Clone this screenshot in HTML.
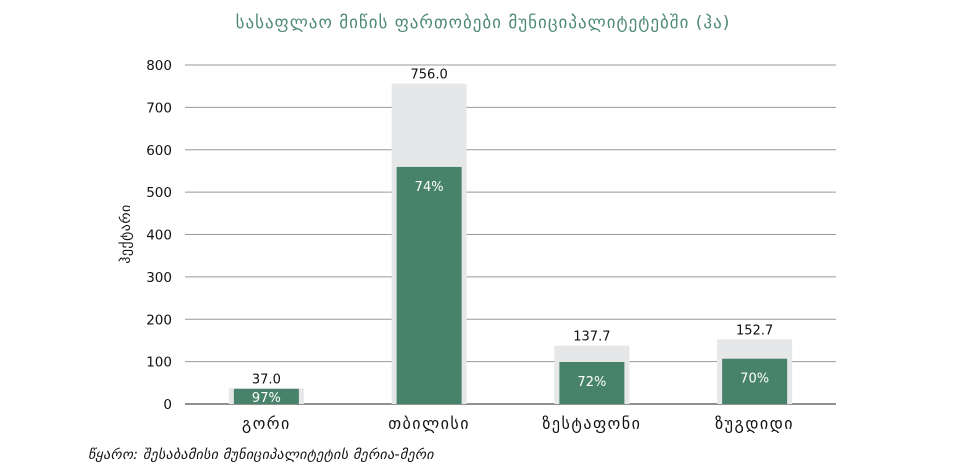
<!DOCTYPE html>
<html><head><meta charset="utf-8"><style>
body{margin:0;background:#fff;}
svg text{font-family:"DejaVu Sans","Liberation Sans",sans-serif;}
</style></head><body>
<svg id="c" width="962" height="471" viewBox="0 0 962 471" xmlns="http://www.w3.org/2000/svg">
<text x="483" y="28" text-anchor="middle" font-size="17" letter-spacing="1" fill="#4e8a72">სასაფლაო მიწის ფართობები მუნიციპალიტეტებში (ჰა)</text>
<text transform="translate(130,234) rotate(-90)" text-anchor="middle" font-size="14" letter-spacing="0.5" fill="#111">ჰექტარი</text>
<text x="88" y="459" font-size="14" font-style="italic" letter-spacing="0.3" fill="#111">წყარო: შესაბამისი მუნიციპალიტეტის მერია-მერი</text>
<g id="plot"></g>
</svg>
<script>
const categories=["გორი","თბილისი","ზესტაფონი","ზუგდიდი"];
const totals=[37.0,756.0,137.7,152.7];
const shares=[97,74,72,70];
const ticks=[0,100,200,300,400,500,600,700,800];
const NS="http://www.w3.org/2000/svg";
const g=document.getElementById('plot');
const x0=185,x1=836,yb=404,yt=65,ymax=800;
const y=v=>yb-(v/ymax)*(yb-yt);
const band=(x1-x0)/categories.length;
const xc=i=>x0+band*(i+0.5);
function el(t,a,txt){const e=document.createElementNS(NS,t);for(const k in a)e.setAttribute(k,a[k]);if(txt!=null)e.textContent=txt;g.appendChild(e);return e;}
ticks.forEach(t=>{
 const l=el('line',{x1:x0,x2:x1,y1:y(t),y2:y(t),stroke:t===0?'#222':'#999','stroke-width':1});
 
 
 const tx=el('text',{x:172,y:y(t)+5,'text-anchor':'end','font-size':13.5,fill:'#111'},t);
 
 
});
categories.forEach((c,i)=>{
 const cx=xc(i);
 const r=el('rect',{x:cx-37.5,y:y(totals[i]),width:75,height:yb-y(totals[i]),fill:'#e6e7e8'});
 
 
 const gv=totals[i]*shares[i]/100;
 const r2=el('rect',{x:cx-32.5,y:y(gv),width:65,height:yb-y(gv),fill:'#47826a'});
 
 
 const tl=el('text',{x:cx,y:y(totals[i])-5,'text-anchor':'middle','font-size':13,fill:'#111'},totals[i].toFixed(1));
 
 
 const sy=shares[i]>90?y(gv)+13:y(gv)+24;
 const sl=el('text',{x:cx,y:sy,'text-anchor':'middle','font-size':13,fill:'#fff'},shares[i]+'%');
 
 
 const cl=el('text',{x:cx,y:429,'text-anchor':'middle','font-size':16,'letter-spacing':1.5,fill:'#111'},c);
 
 
});
</script>
</body></html>
